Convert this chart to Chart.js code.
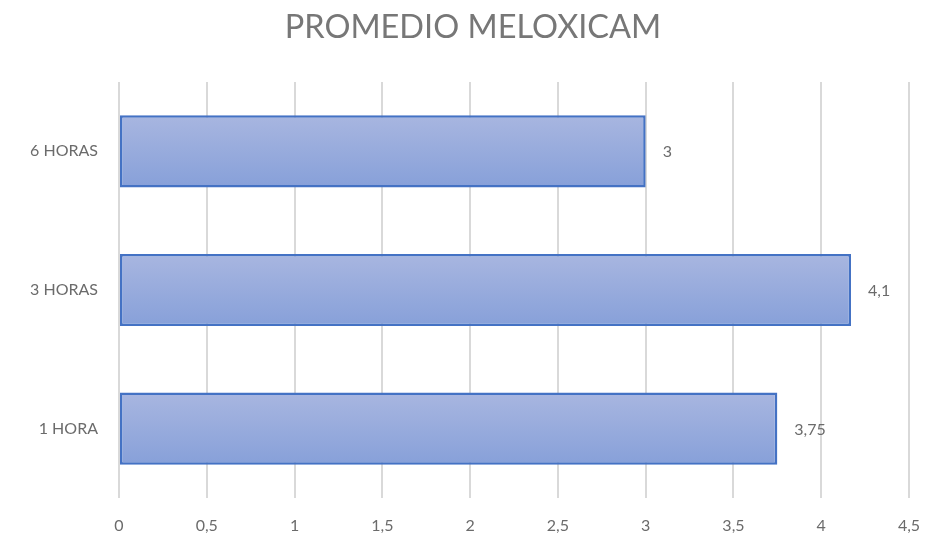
<!DOCTYPE html>
<html>
<head>
<meta charset="utf-8">
<script src="https://cdn.jsdelivr.net/npm/chart.js@4/dist/chart.umd.min.js"></script>
<style>
  html,body{margin:0;padding:0;background:#fff;}
  #wrap{width:926px;height:542px;}
</style>
</head>
<body>
<div id="wrap"><canvas id="c" width="926" height="542"></canvas></div>
<script>
// chart data
const categories = ['6 HORAS', '3 HORAS', '1 HORA'];
const values = [3, 4.17, 3.75];
const valueLabels = ['3', '4,1', '3,75'];
const xTicks = [0, 0.5, 1, 1.5, 2, 2.5, 3, 3.5, 4, 4.5];
const chartTitle = 'PROMEDIO MELOXICAM';

const FONT = 'Lato, "Open Sans", sans-serif';
const BAR_PCT = 0.52;
const fmt = v => String(v).replace('.', ',');

// bar gradient, top light -> bottom darker
const barFill = (c) => {
  const chart = c.chart, area = chart.chartArea;
  if(!area) return '#98acdc';
  const y = chart.scales.y.getPixelForValue(c.dataIndex);
  const half = chart.scales.y.height / categories.length * BAR_PCT / 2;
  const g = chart.ctx.createLinearGradient(0, y-half, 0, y+half);
  g.addColorStop(0, '#a8b6e0');
  g.addColorStop(1, '#87a0d9');
  return g;
};

const titlePlugin = {
  id: 'topTitle',
  afterDraw(chart){
    const ctx = chart.ctx;
    ctx.save();
    ctx.font = '32.5px ' + FONT;
    ctx.fillStyle = '#777777';
    ctx.textAlign = 'center';
    ctx.textBaseline = 'middle';
    ctx.fillText(chartTitle, 473, 28);
    ctx.restore();
  }
};

const valueLabelPlugin = {
  id: 'valueLabels',
  afterDatasetsDraw(chart){
    const ctx = chart.ctx;
    const meta = chart.getDatasetMeta(0);
    ctx.save();
    ctx.font = '16px ' + FONT;
    ctx.fillStyle = '#6b6b6b';
    ctx.textAlign = 'left';
    ctx.textBaseline = 'middle';
    meta.data.forEach((bar, i)=>{
      ctx.fillText(valueLabels[i], bar.x + 17, bar.y + 1);
    });
    ctx.restore();
  }
};

new Chart(document.getElementById('c'), {
  type: 'bar',
  data: {
    labels: categories,
    datasets: [{
      data: values,
      backgroundColor: barFill,
      borderColor: '#4472c4',
      borderWidth: 2.5,
      borderSkipped: false,
      categoryPercentage: 1,
      barPercentage: BAR_PCT
    }]
  },
  options: {
    indexAxis: 'y',
    responsive: false,
    animation: false,
    layout: { padding: { left: 0, right: 17, top: 82, bottom: 0 } },
    plugins: {
      legend: { display: false },
      tooltip: { enabled: false },
      title: { display: false }
    },
    scales: {
      x: {
        min: 0, max: 4.5,
        afterBuildTicks: s => { s.ticks = xTicks.map(v => ({ value: v })); },
        afterFit: s => { s.height = 44; s.paddingLeft = 0; s.paddingRight = 0; },
        grid: { color: '#d9d9d9', lineWidth: 2, drawTicks: false },
        border: { display: false },
        ticks: { color: '#6b6b6b', padding: 18, font: { family: FONT, size: 16 }, callback: v => fmt(v) }
      },
      y: {
        afterFit: s => { s.width = 119; },
        grid: { display: false, drawTicks: false },
        border: { display: false },
        ticks: { color: '#6b6b6b', padding: 21, font: { family: FONT, size: 16 } }
      }
    }
  },
  plugins: [valueLabelPlugin, titlePlugin]
});
</script>
</body>
</html>
